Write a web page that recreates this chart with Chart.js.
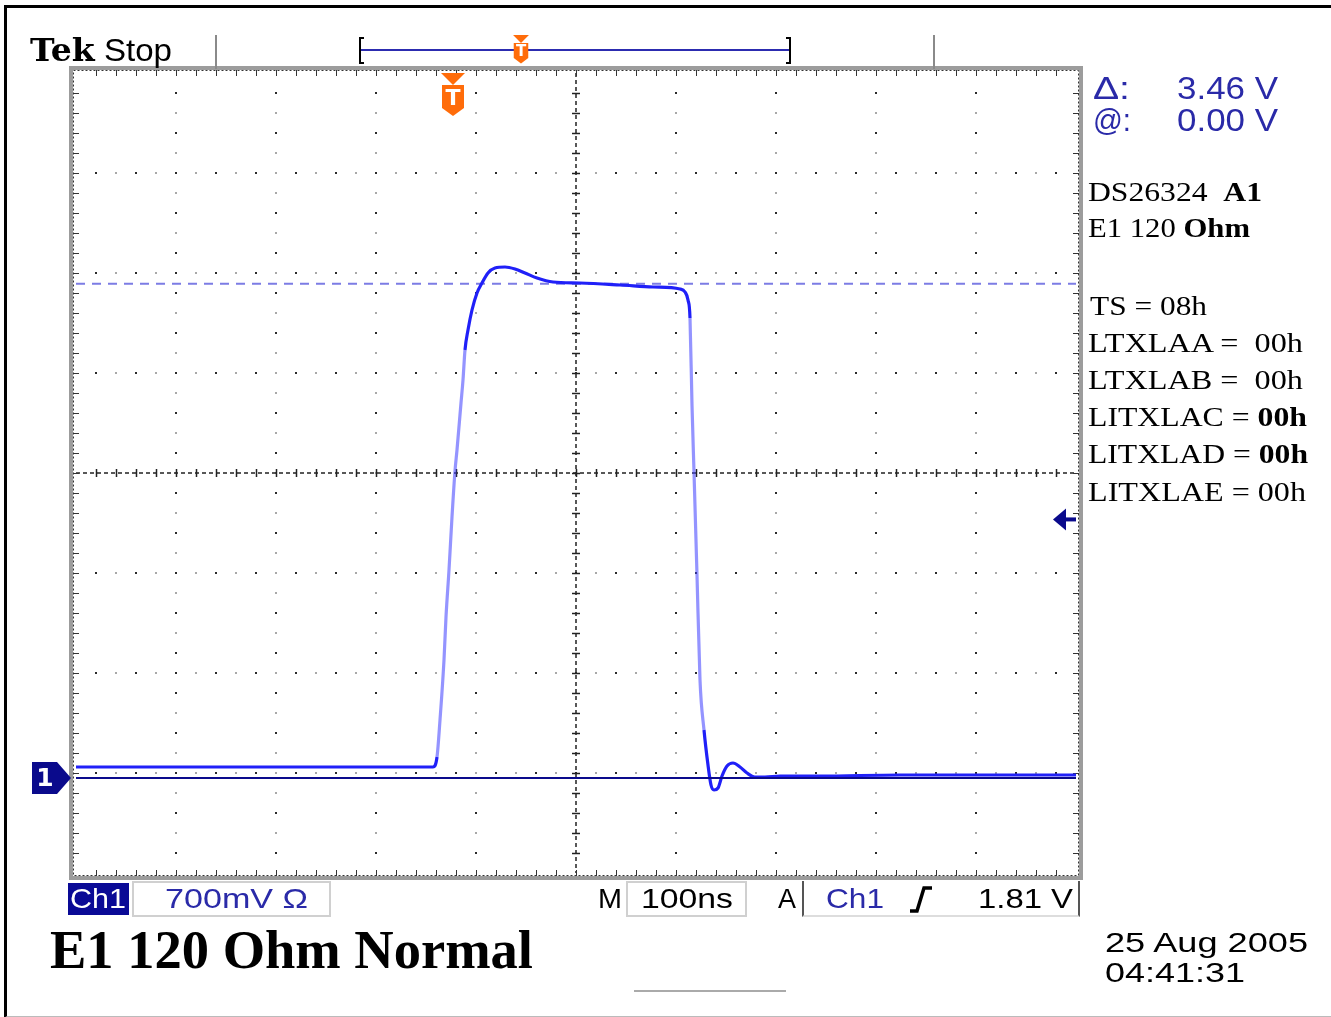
<!DOCTYPE html>
<html>
<head>
<meta charset="utf-8">
<script src="https://cdn.jsdelivr.net/npm/chart.js@4/dist/chart.umd.min.js"></script>
<style>
html, body { margin: 0; padding: 0; background: #fff; }
#wrap { position: relative; width: 1331px; height: 1017px; overflow: hidden; background: #fff; }
#scope { position: absolute; left: 0; top: 0; }
#frame { position: absolute; left: 4px; top: 5px; width: 1340px; height: 1008px;
  border-top: 3px solid #000; border-left: 3px solid #000; border-bottom: 2px solid #bbb; }
.t { position: absolute; white-space: pre; line-height: 1; display: inline-block; transform-origin: left top; }
.serif { font-family: "Liberation Serif", "DejaVu Serif", serif; color: #000; }
.sans { font-family: "Liberation Sans", "DejaVu Sans", sans-serif; }
.blue { color: #2a2aa8; }
.box { position: absolute; box-sizing: border-box; }
</style>
</head>
<body>
<div id="wrap">
  <canvas id="scope" width="1331" height="1017"></canvas>
  <div id="frame"></div>

  <div class="t" style="left:30px;top:34px;font-size:32px;" data-w="142"><b style="font-family:'DejaVu Serif',serif">Tek</b><span class="sans"> Stop</span></div>

  <div class="t sans blue" style="left:1093px;top:73px;font-size:31px;" data-w="37">Δ:</div>
  <div class="t sans blue" style="left:1177px;top:73px;font-size:31px;" data-w="101">3.46 V</div>
  <div class="t sans blue" style="left:1093px;top:105px;font-size:31px;" data-w="38">@:</div>
  <div class="t sans blue" style="left:1177px;top:105px;font-size:31px;" data-w="101">0.00 V</div>

  <div class="t serif" style="left:1088px;top:179px;font-size:27px;" data-w="174">DS26324  <b>A1</b></div>
  <div class="t serif" style="left:1088px;top:215px;font-size:27px;" data-w="162">E1 120 <b>Ohm</b></div>
  <div class="t serif" style="left:1090px;top:293px;font-size:27px;" data-w="117">TS = 08h</div>
  <div class="t serif" style="left:1088px;top:330px;font-size:27px;" data-w="215">LTXLAA =  00h</div>
  <div class="t serif" style="left:1088px;top:367px;font-size:27px;" data-w="215">LTXLAB =  00h</div>
  <div class="t serif" style="left:1088px;top:404px;font-size:27px;" data-w="219">LITXLAC = <b>00h</b></div>
  <div class="t serif" style="left:1088px;top:441px;font-size:27px;" data-w="220">LITXLAD = <b>00h</b></div>
  <div class="t serif" style="left:1088px;top:479px;font-size:27px;" data-w="218">LITXLAE = 00h</div>

  <div class="box" style="left:68px;top:883px;width:61px;height:32px;background:#0a0a96;"></div>
  <div class="t sans" style="left:70px;top:885px;font-size:28px;color:#fff;" data-w="56">Ch1</div>
  <div class="box" style="left:132px;top:881px;width:199px;height:36px;border:2px solid #d0d0d0;"></div>
  <div class="t sans blue" style="left:165px;top:885px;font-size:28px;" data-w="143">700mV Ω</div>
  <div class="t sans" style="left:598px;top:885px;font-size:28px;" data-w="24">M</div>
  <div class="box" style="left:626px;top:881px;width:121px;height:36px;border:2px solid #d0d0d0;"></div>
  <div class="t sans" style="left:641px;top:885px;font-size:28px;" data-w="92">100ns</div>
  <div class="t sans" style="left:778px;top:885px;font-size:28px;" data-w="18">A</div>
  <div class="box" style="left:802px;top:881px;width:278px;height:36px;border-left:2px solid #555;border-right:2px solid #555;border-bottom:2px solid #ddd;"></div>
  <div class="t sans blue" style="left:826px;top:885px;font-size:28px;" data-w="58">Ch1</div>
  <svg class="box" style="left:906px;top:884px;" width="30" height="30"><polyline points="4,27 11,27 18,4 26,4" fill="none" stroke="#000" stroke-width="3.5"/></svg>
  <div class="t sans" style="left:978px;top:885px;font-size:28px;" data-w="95">1.81 V</div>

  <div class="t serif" style="left:50px;top:923px;font-size:54px;font-weight:bold;" data-w="483">E1 120 Ohm Normal</div>

  <div class="t sans" style="left:1105px;top:930px;font-size:27px;" data-w="203">25 Aug 2005</div>
  <div class="t sans" style="left:1105px;top:960px;font-size:27px;" data-w="140">04:41:31</div>

  <div class="box" style="left:634px;top:990px;width:152px;height:2px;background:#aaa;"></div>
</div>

<script>
// Ch1 trace (time in ns from left edge, volts)
const timeNs   = [0, 200, 357, 361, 364, 368, 370, 373, 376, 379, 381, 385, 387, 389, 392, 396,
                  401, 406, 412, 419, 429, 439, 449, 461, 477, 504, 544, 577, 604, 609, 612, 614,
                  616, 618, 621, 624, 628, 632, 635, 638, 642, 646, 651, 657, 664, 671, 679, 689,
                  704, 744, 824, 924, 1000];
const ch1Volts = [0.077, 0.077, 0.077, 0.147, 0.406, 0.826, 1.127, 1.456, 1.827, 2.149, 2.296, 2.625, 2.786, 2.996, 3.136, 3.276,
                  3.395, 3.465, 3.535, 3.570, 3.577, 3.563, 3.535, 3.500, 3.472, 3.465, 3.451, 3.437, 3.423, 3.402, 3.346, 3.220,
                  2.611, 2.142, 1.421, 0.686, 0.336, 0.091, -0.049, -0.084, -0.070, 0.014, 0.084, 0.105, 0.077, 0.035, 0.007, 0.007,
                  0.014, 0.014, 0.021, 0.021, 0.021];

// graticule: 10 x 100ns, 8 x 700mV
const timeDivs = [0, 100, 200, 300, 400, 500, 600, 700, 800, 900, 1000];
const voltDivs = [-0.665, 0.035, 0.735, 1.435, 2.135, 2.835, 3.535, 4.235, 4.935];
const minorPerDiv = 5;

const cursorVolts = [0.00, 3.46];   // @ and @+delta
const triggerLevel = 1.81;
const triggerTime = 377;

const graticule = {
  id: 'graticule',
  beforeDatasetsDraw(chart) {
    const { ctx, chartArea: a, scales: { x, y } } = chart;
    const xs = timeDivs.map(v => x.getPixelForValue(v));
    const ys = voltDivs.map(v => y.getPixelForValue(v));
    const dx = (xs[1] - xs[0]) / minorPerDiv, dy = (ys[0] - ys[1]) / minorPerDiv;
    const cx = xs[5], cy = ys[4];
    ctx.save();

    // dotted major lines
    for (let i = 1; i < xs.length - 1; i++) {
      if (i === 5) continue;
      for (let k = 1; k < (ys.length - 1) * minorPerDiv; k++) {
        ctx.fillStyle = k % 2 ? '#2a2a2a' : '#a8a8a8';
        ctx.fillRect(Math.round(xs[i]) - 1, Math.round(a.bottom - k * dy) - 1, 2, 2);
      }
    }
    for (let j = 1; j < ys.length - 1; j++) {
      if (j === 4) continue;
      for (let k = 1; k < (xs.length - 1) * minorPerDiv; k++) {
        ctx.fillStyle = k % 2 ? '#2a2a2a' : '#a8a8a8';
        ctx.fillRect(Math.round(a.left + k * dx) - 1, Math.round(ys[j]) - 1, 2, 2);
      }
    }

    // centre cross with ticks
    ctx.strokeStyle = '#222';
    ctx.lineWidth = 1.5;
    ctx.setLineDash([4, 3]);
    ctx.beginPath();
    ctx.moveTo(a.left, cy); ctx.lineTo(a.right, cy);
    ctx.moveTo(cx, a.top); ctx.lineTo(cx, a.bottom);
    ctx.stroke();
    ctx.setLineDash([]);
    ctx.beginPath();
    for (let k = 1; k < (xs.length - 1) * minorPerDiv; k++) {
      const px = Math.round(a.left + k * dx) + 0.5;
      ctx.moveTo(px, cy - 4); ctx.lineTo(px, cy + 4);
    }
    for (let k = 1; k < (ys.length - 1) * minorPerDiv; k++) {
      const py = Math.round(a.bottom - k * dy) + 0.5;
      ctx.moveTo(cx - 4, py); ctx.lineTo(cx + 4, py);
    }
    ctx.stroke();

    // gray frame and edge rulers
    ctx.strokeStyle = '#9c9c9c';
    ctx.lineWidth = 4;
    ctx.strokeRect(a.left - 5, a.top - 5, a.right - a.left + 10, a.bottom - a.top + 10);
    ctx.strokeStyle = '#333';
    ctx.lineWidth = 1;
    ctx.setLineDash([2, 2]);
    ctx.strokeRect(a.left - 2.5, a.top - 2.5, a.right - a.left + 5, a.bottom - a.top + 5);
    ctx.setLineDash([]);
    ctx.beginPath();
    for (let k = 1; k < (xs.length - 1) * minorPerDiv; k++) {
      const px = Math.round(a.left + k * dx) + 0.5;
      ctx.moveTo(px, a.top - 3); ctx.lineTo(px, a.top + 3);
      ctx.moveTo(px, a.bottom - 3); ctx.lineTo(px, a.bottom + 3);
    }
    for (let k = 1; k < (ys.length - 1) * minorPerDiv; k++) {
      const py = Math.round(a.bottom - k * dy) + 0.5;
      ctx.moveTo(a.left - 3, py); ctx.lineTo(a.left + 3, py);
      ctx.moveTo(a.right - 3, py); ctx.lineTo(a.right + 3, py);
    }
    ctx.stroke();
    ctx.restore();
  },
  afterDraw(chart) {
    const { ctx, chartArea: a, scales: { x, y } } = chart;
    ctx.save();
    // header separators
    ctx.strokeStyle = '#8a8a8a';
    ctx.lineWidth = 2;
    ctx.beginPath();
    ctx.moveTo(216, 35); ctx.lineTo(216, a.top - 4);
    ctx.moveTo(934, 35); ctx.lineTo(934, a.top - 4);
    ctx.stroke();

    // record bar
    ctx.strokeStyle = '#2c2cb0';
    ctx.lineWidth = 2;
    ctx.beginPath(); ctx.moveTo(360, 50); ctx.lineTo(790, 50); ctx.stroke();
    ctx.strokeStyle = '#000';
    ctx.beginPath();
    ctx.moveTo(364, 38); ctx.lineTo(360, 38); ctx.lineTo(360, 63); ctx.lineTo(364, 63);
    ctx.moveTo(786, 38); ctx.lineTo(790, 38); ctx.lineTo(790, 63); ctx.lineTo(786, 63);
    ctx.stroke();

    const orange = '#ff6c0a';
    const tMarker = (mx, top, s) => {
      ctx.fillStyle = orange;
      ctx.beginPath();
      ctx.moveTo(mx - 12 * s, top); ctx.lineTo(mx + 12 * s, top); ctx.lineTo(mx, top + 12 * s);
      ctx.fill();
      ctx.beginPath();
      ctx.moveTo(mx - 11 * s, top + 12 * s); ctx.lineTo(mx + 11 * s, top + 12 * s);
      ctx.lineTo(mx + 11 * s, top + 35 * s); ctx.lineTo(mx, top + 43 * s);
      ctx.lineTo(mx - 11 * s, top + 35 * s); ctx.closePath();
      ctx.fill();
      ctx.fillStyle = '#fff';
      ctx.font = `bold ${Math.round(22 * s)}px "DejaVu Sans", sans-serif`;
      ctx.textAlign = 'center'; ctx.textBaseline = 'middle';
      ctx.fillText('T', mx, top + 26 * s);
    };
    tMarker(521, 35, 0.66);
    tMarker(x.getPixelForValue(triggerTime), a.top, 1);

    // channel 1 ground marker
    const gy = y.getPixelForValue(cursorVolts[0]);
    ctx.fillStyle = '#0a0a8c';
    ctx.beginPath();
    ctx.moveTo(32, gy - 16); ctx.lineTo(57, gy - 16); ctx.lineTo(71, gy);
    ctx.lineTo(57, gy + 16); ctx.lineTo(32, gy + 16); ctx.closePath();
    ctx.fill();
    ctx.fillStyle = '#fff';
    ctx.font = 'bold 25px "DejaVu Sans", sans-serif';
    ctx.textAlign = 'center'; ctx.textBaseline = 'middle';
    ctx.fillText('1', 45, gy + 1);

    // trigger level arrow
    const ty = y.getPixelForValue(triggerLevel);
    ctx.fillStyle = '#0a0a8c';
    ctx.beginPath();
    ctx.moveTo(1053, ty); ctx.lineTo(1066, ty - 11); ctx.lineTo(1066, ty + 11); ctx.closePath();
    ctx.fill();
    ctx.fillRect(1064, ty - 2, 12, 4);
    ctx.restore();
  }
};

new Chart('scope', {
  type: 'line',
  data: {
    datasets: [{
      data: timeNs.map((t, i) => ({ x: t, y: ch1Volts[i] })),
      borderColor: '#2020f8',
      borderWidth: 3.2,
      cubicInterpolationMode: 'monotone',
      order: 2,
      segment: {
        // fast edges look dimmer on the scope display
        borderColor: c => {
          const s = Math.abs(c.p1.parsed.y - c.p0.parsed.y) / (c.p1.parsed.x - c.p0.parsed.x);
          return s > 0.07 ? 'rgba(60,60,255,0.55)' : '#2020f8';
        }
      }
    }, {
      data: [{ x: timeDivs[0], y: cursorVolts[0] }, { x: timeDivs[10], y: cursorVolts[0] }],
      borderColor: '#0a0a8c',
      borderWidth: 2,
      order: 1
    }, {
      data: [{ x: timeDivs[0], y: cursorVolts[1] }, { x: timeDivs[10], y: cursorVolts[1] }],
      borderColor: 'rgba(110,110,225,0.9)',
      borderWidth: 2,
      borderDash: [9, 7],
      order: 3
    }]
  },
  options: {
    responsive: false,
    devicePixelRatio: 1,
    animation: false,
    layout: { padding: { left: 76, right: 255, top: 73, bottom: 144 } },
    elements: { point: { radius: 0 } },
    scales: {
      x: { type: 'linear', display: false, min: timeDivs[0], max: timeDivs[10] },
      y: { type: 'linear', display: false, min: voltDivs[0], max: voltDivs[8] }
    },
    plugins: { legend: { display: false }, tooltip: { enabled: false } }
  },
  plugins: [graticule]
});

document.querySelectorAll('[data-w]').forEach(el => {
  const w = el.getBoundingClientRect().width;
  el.style.transform = 'scaleX(' + (el.dataset.w / w) + ')';
});
</script>
</body>
</html>
